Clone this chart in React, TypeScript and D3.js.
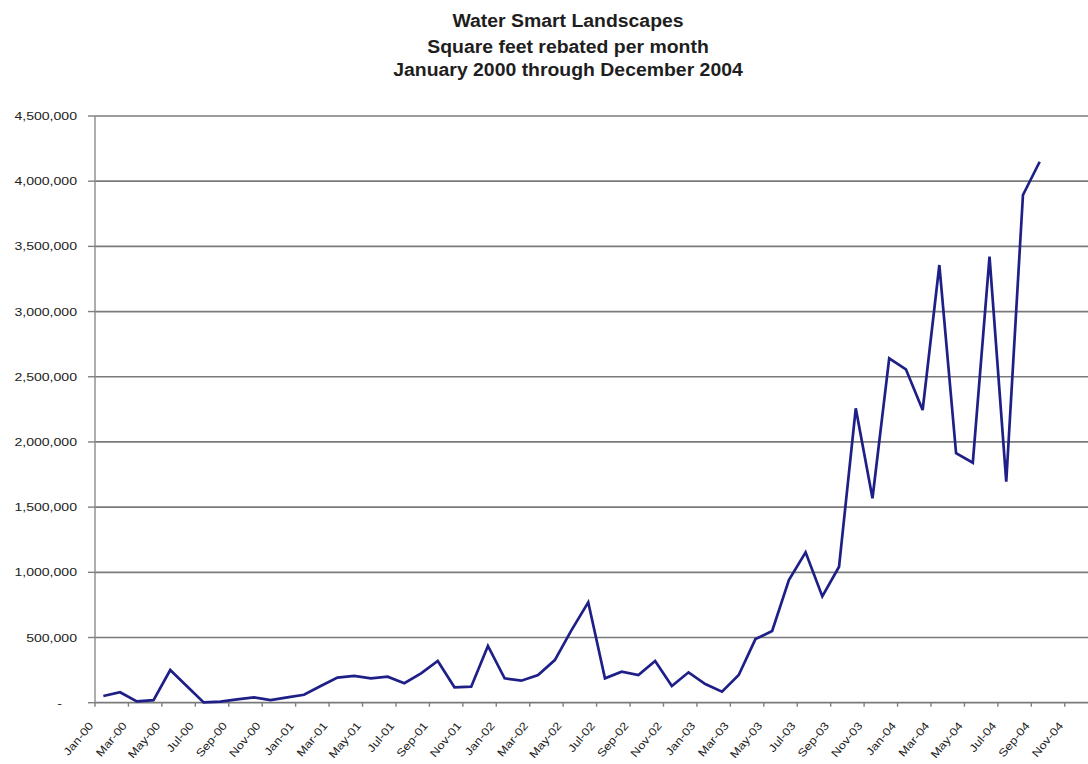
import React from "react";
import * as d3 from "d3";

// Monthly categories, January 2000 through December 2004
const months: string[] = [
  "Jan-00", "Feb-00", "Mar-00", "Apr-00", "May-00", "Jun-00", "Jul-00", "Aug-00", "Sep-00", "Oct-00", "Nov-00", "Dec-00",
  "Jan-01", "Feb-01", "Mar-01", "Apr-01", "May-01", "Jun-01", "Jul-01", "Aug-01", "Sep-01", "Oct-01", "Nov-01", "Dec-01",
  "Jan-02", "Feb-02", "Mar-02", "Apr-02", "May-02", "Jun-02", "Jul-02", "Aug-02", "Sep-02", "Oct-02", "Nov-02", "Dec-02",
  "Jan-03", "Feb-03", "Mar-03", "Apr-03", "May-03", "Jun-03", "Jul-03", "Aug-03", "Sep-03", "Oct-03", "Nov-03", "Dec-03",
  "Jan-04", "Feb-04", "Mar-04", "Apr-04", "May-04", "Jun-04", "Jul-04", "Aug-04", "Sep-04", "Oct-04", "Nov-04", "Dec-04",
];

// Square feet rebated each month (reported through Sep-04)
const squareFeet: number[] = [
  51000, 80000, 10000, 20000, 251000, 126000, 2000, 8000, 26000, 41000, 20000, 41000,
  61000, 128000, 192000, 205000, 187000, 200000, 149000, 225000, 320000, 118000, 123000, 435000,
  187000, 169000, 212000, 327000, 557000, 770000, 187000, 238000, 212000, 320000, 128000, 233000,
  143000, 84000, 212000, 488000, 550000, 941000, 1153000, 815000, 1043000, 2258000, 1568000, 2641000,
  2557000, 2245000, 3357000, 1913000, 1841000, 3421000, 1695000, 3894000, 4149000,
];

const yTicks: number[] = [0, 500000, 1000000, 1500000, 2000000, 2500000, 3000000, 3500000, 4000000, 4500000];

const titleLines: string[] = [
  "Water Smart Landscapes",
  "Square feet rebated per month",
  "January 2000 through December 2004",
];

const W = 1088;
const H = 764;
const FONT = "'Liberation Sans', Arial, Helvetica, sans-serif";

export default function App() {
  const left = 95;
  const step = 16.72;
  const right = left + step * months.length;
  const top = 116;
  const bottom = 702.7;

  const x = d3.scaleBand<string>().domain(months).range([left, right]).padding(0);
  const y = d3.scaleLinear().domain([0, 4500000]).range([bottom, top]);
  const fmt = d3.format(",");

  const points: [number, number][] = squareFeet.map((v, i) => [
    (x(months[i]) as number) + x.bandwidth() / 2,
    y(v),
  ]);
  const line = d3.line<[number, number]>().x((d) => d[0]).y((d) => d[1]);

  const tickMonths = months.filter((_, i) => i % 2 === 0);

  return (
    <svg
      width={W}
      height={H}
      viewBox={`0 0 ${W} ${H}`}
      style={{ position: "absolute", left: 0, top: 0, background: "#fff" }}
    >
      <defs>
        <clipPath id="frame">
          <rect x={0} y={0} width={W} height={H} />
        </clipPath>
      </defs>
      <rect x={0} y={0} width={W} height={H} fill="#fff" />

      {/* Title */}
      {titleLines.map((t, i) => (
        <text
          key={t}
          transform={`translate(568, ${[26.5, 53, 76][i]}) scale(1.05, 1)`}
          textAnchor="middle"
          fontFamily={FONT}
          fontWeight="bold"
          fontSize={18.5}
          fill="#1e1e1e"
        >
          {t}
        </text>
      ))}

      <g clipPath="url(#frame)">
        {/* Horizontal gridlines */}
        {yTicks.map((t) => (
          <line
            key={`g${t}`}
            x1={left}
            x2={right}
            y1={y(t)}
            y2={y(t)}
            stroke="#7a7a7a"
            strokeWidth={1.7}
          />
        ))}

        {/* Value axis */}
        <line x1={left} x2={left} y1={top} y2={bottom} stroke="#8a8a8a" strokeWidth={1.4} />
        {yTicks.map((t) => (
          <line key={`yt${t}`} x1={left - 7} x2={left} y1={y(t)} y2={y(t)} stroke="#7f7f7f" strokeWidth={1.4} />
        ))}
        {yTicks.map((t) => (
          <text
            key={`yl${t}`}
            transform={`translate(${t === 0 ? 62 : 77}, ${y(t) + 4}) scale(1.28, 1)`}
            textAnchor="end"
            fontFamily={FONT}
            fontSize={11}
            fill="#222"
          >
            {t === 0 ? "-" : fmt(t)}
          </text>
        ))}

        {/* Category axis ticks at every second month boundary */}
        {tickMonths.map((m) => (
          <line
            key={`xt${m}`}
            x1={x(m) as number}
            x2={x(m) as number}
            y1={bottom}
            y2={bottom + 4}
            stroke="#7f7f7f"
            strokeWidth={1.4}
          />
        ))}
        {tickMonths.map((m) => (
          <text
            key={`xl${m}`}
            transform={`translate(${(x(m) as number) - 1}, 726) rotate(-50) scale(1.18, 1)`}
            textAnchor="end"
            fontFamily={FONT}
            fontSize={11}
            fill="#222"
          >
            {m}
          </text>
        ))}

        {/* Monthly series */}
        <path
          d={line(points) ?? ""}
          fill="none"
          stroke="#1f1f88"
          strokeWidth={2.7}
          strokeLinejoin="miter"
        />
      </g>
    </svg>
  );
}
